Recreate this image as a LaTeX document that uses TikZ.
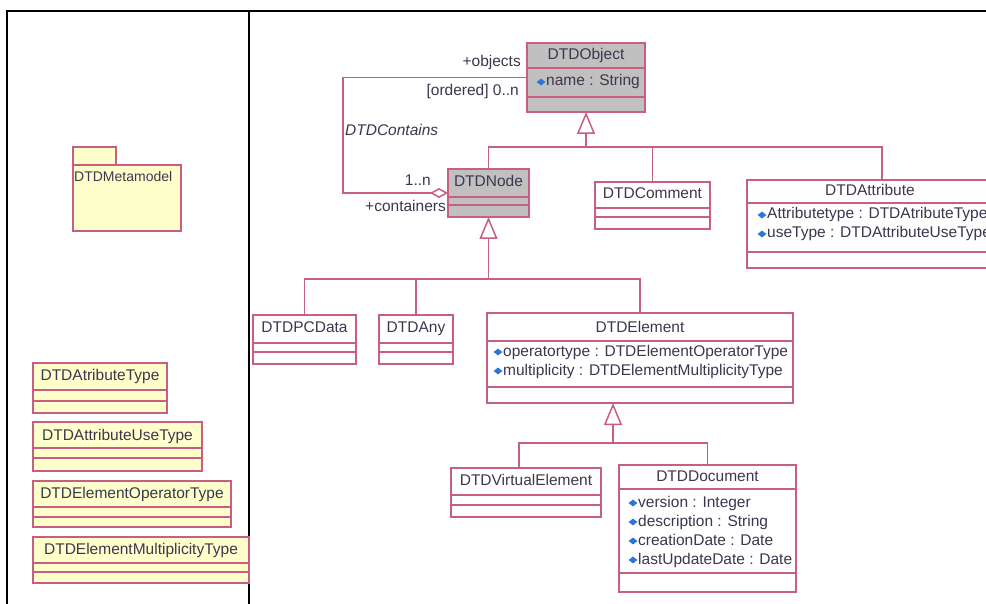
\documentclass[tikz,border=0pt]{standalone}
\usepackage{fontspec}
\setmainfont{Liberation Sans}
\usetikzlibrary{arrows.meta,shapes.geometric,calc}

\definecolor{umlline}{RGB}{200,95,130}
\definecolor{umlgray}{RGB}{192,192,192}
\definecolor{umlyellow}{RGB}{255,255,204}
\definecolor{umltext}{RGB}{60,55,78}
\definecolor{umlicon}{RGB}{40,120,220}

% class box with two compartment separators (offsets measured from the top edge)
\newcommand{\classbox}[8]{%
  \node[clsbox, fill=#6, minimum width=#4pt, minimum height=#5pt] (#1) at (#2,#3) {};
  \draw[clsline] ($(#1.north west)+(0,#7)$) -- ($(#1.north east)+(0,#7)$);
  \draw[clsline] ($(#1.north west)+(0,#8)$) -- ($(#1.north east)+(0,#8)$);
}
% attribute row: blue marker followed by the text
\newcommand{\attrrow}[4]{%
  \node[attricon] (#1-icon) at (#2,#3) {};
  \node[attrtext] (#1) at (#2+5,#3) {#4};
}

\begin{document}
\begin{tikzpicture}[x=1pt,y=-1pt,
  txt/.style={text=umltext, font=\fontsize{15.5}{18}\selectfont, inner sep=0pt,
              text height=11pt, text depth=3pt},
  clsbox/.style={draw=umlline, line width=1.5pt, anchor=north west, inner sep=0pt, outer sep=0pt},
  clsline/.style={draw=umlline, line width=1.5pt},
  title/.style={txt},
  attrtext/.style={txt, anchor=west},
  attricon/.style={diamond, fill=umlicon, minimum width=9pt, minimum height=7pt, inner sep=0pt},
  conn/.style={draw=umlline, line width=1.5pt},
  gen/.style={conn, -{Triangle[open, length=22pt, width=18pt, fill=white]}},
  aggr/.style={conn, -{Diamond[open, length=18pt, width=10pt, fill=white]}},
  frame/.style={draw=black, line width=2pt},
  role/.style={txt}
]
\useasboundingbox (0,0) rectangle (986,604);
\fill[white] (0,0) rectangle (986,604);

% panel frame
\draw[frame] (7,604) -- (7,11) -- (986,11);
\draw[frame] (249,11) -- (249,604);

% ---------- left panel: package and enumerations ----------
\node[clsbox, fill=umlyellow, minimum width=43pt, minimum height=18pt] (pkgtab) at (73,147) {};
\node[clsbox, fill=umlyellow, minimum width=108pt, minimum height=66pt] (pkg) at (73,165) {};
\node[txt, anchor=west, font=\fontsize{14}{16}\selectfont] (pkg-name) at (74,178) {DTDMetamodel};

\classbox{enumA}{33}{363}{134}{50}{umlyellow}{27}{38}
\node[title] (enumA-name) at ($(enumA.north)+(0,14)$) {DTDAtributeType};
\classbox{enumB}{33}{422}{169}{49}{umlyellow}{26}{36}
\node[title] (enumB-name) at ($(enumB.north)+(0,14)$) {DTDAttributeUseType};
\classbox{enumC}{33}{481}{198}{46}{umlyellow}{26}{36}
\node[title] (enumC-name) at ($(enumC.north)+(0,13)$) {DTDElementOperatorType};
\classbox{enumD}{33}{537}{216}{46}{umlyellow}{26}{35}
\node[title] (enumD-name) at ($(enumD.north)+(0,13)$) {DTDElementMultiplicityType};

% ---------- class diagram ----------
\classbox{obj}{527}{43}{118}{69}{umlgray}{25}{54}
\node[title] (obj-name) at ($(obj.north)+(0,13)$) {DTDObject};
\attrrow{obj-a1}{541}{82}{name : String}

\classbox{dnode}{448}{169}{81}{48}{umlgray}{28}{36}
\node[title] (dnode-name) at ($(dnode.north)+(0,14)$) {DTDNode};

\classbox{comment}{595}{182}{115}{47}{white}{26}{35}
\node[title] (comment-name) at ($(comment.north)+(0,13)$) {DTDComment};

\classbox{attr}{747}{180}{246}{88}{white}{23}{72}
\node[title] (attr-name) at ($(attr.north)+(0,12)$) {DTDAttribute};
\attrrow{attr-a1}{762}{215}{Attributetype : DTDAtributeType}
\attrrow{attr-a2}{762}{234}{useType : DTDAttributeUseType}

\classbox{pcdata}{253}{315}{103}{49}{white}{28}{37}
\node[title] (pcdata-name) at ($(pcdata.north)+(0,14)$) {DTDPCData};

\classbox{any}{379}{315}{74}{49}{white}{28}{37}
\node[title] (any-name) at ($(any.north)+(0,14)$) {DTDAny};

\classbox{elem}{487}{313}{306}{90}{white}{28}{74}
\node[title] (elem-name) at ($(elem.north)+(0,15)$) {DTDElement};
\attrrow{elem-a1}{498}{352}{operatortype : DTDElementOperatorType}
\attrrow{elem-a2}{498}{371}{multiplicity : DTDElementMultiplicityType}

\classbox{virt}{451}{468}{150}{49}{white}{27}{37}
\node[title] (virt-name) at ($(virt.north)+(0,13)$) {DTDVirtualElement};

\classbox{doc}{619}{465}{177}{127}{white}{24}{108}
\node[title] (doc-name) at ($(doc.north)+(0,12)$) {DTDDocument};
\attrrow{doc-a1}{633}{503}{version : Integer}
\attrrow{doc-a2}{633}{522}{description : String}
\attrrow{doc-a3}{633}{541}{creationDate : Date}
\attrrow{doc-a4}{633}{560}{lastUpdateDate : Date}

% ---------- association DTDContains ----------
\coordinate (assocA) at (343,77.5);
\coordinate (assocB) at (343,193);
\draw[aggr] (obj.west) -- (assocA) -- (assocB) -- (dnode.west);
\node[role, anchor=east] (objects-role) at (521,63) {+objects};
\node[role, anchor=east] (objects-mult) at (519,92) {[ordered] 0..n};
\node[role, anchor=west, font=\fontsize{15.5}{18}\selectfont\itshape] (assoc-name) at (345,132) {DTDContains};
\node[role, anchor=east] (containers-mult) at (431,182) {1..n};
\node[role, anchor=east] (containers-role) at (446,208) {+containers};

% ---------- generalisations ----------
\coordinate (busObj) at (586,147);
\draw[conn] (dnode.north) |- (busObj);
\draw[conn] (comment.north) |- (busObj);
\draw[conn] ($(attr.north)+(12,0)$) |- (busObj);
\draw[gen] (busObj) -- (obj.south);

\coordinate (busNode) at (488.5,279);
\draw[conn] (pcdata.north) |- (busNode);
\draw[conn] (any.north) |- (busNode);
\draw[conn] (elem.north) |- (busNode);
\draw[gen] (busNode) -- (dnode.south);

\coordinate (busElem) at (613,443);
\draw[conn] ($(virt.north)+(-7,0)$) |- (busElem);
\draw[conn] (doc.north) |- (busElem);
\draw[gen] (busElem) -- ($(elem.south)+(-27,0)$);
\end{tikzpicture}
\end{document}
